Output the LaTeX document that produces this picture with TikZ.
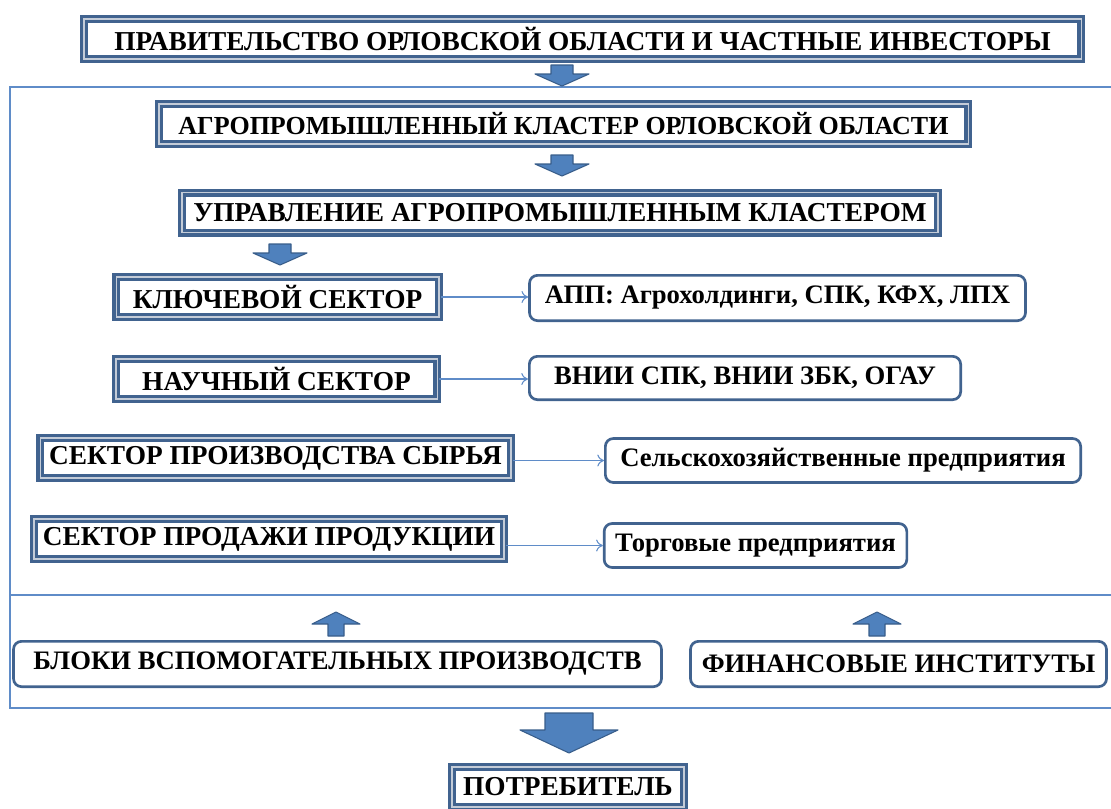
\documentclass[tikz,border=0pt]{standalone}
\usepackage{fontspec}
\setmainfont{Liberation Serif}
\usepackage{tikz}
\usetikzlibrary{calc,arrows.meta}

\definecolor{boxblue}{RGB}{65,99,143}
\definecolor{boxlight}{RGB}{196,204,216}
\definecolor{arrfill}{RGB}{79,129,189}
\definecolor{arredge}{RGB}{56,93,138}
\definecolor{linkblue}{RGB}{95,140,200}

\tikzset{
  framebox/.style={draw=boxblue, line width=2.5pt, double=boxlight, double distance=1pt,
    fill=white, inner sep=0pt, font=\bfseries\fontsize{20.5}{24}\selectfont},
  roundbox/.style={draw=boxblue, line width=2pt, rounded corners=6pt,
    fill=white, inner sep=0pt, font=\bfseries\fontsize{20}{24}\selectfont},
  link/.style={draw=linkblue, line width=0.8pt, -{To[length=5pt,width=9pt]}},
  arrowfill/.style={fill=arrfill, draw=arredge, line width=0.8pt, line join=round},
  downarr/.pic={\draw[arrowfill] (-11,0) -- (-11,-9) -- (-27,-9) -- (0,-21) -- (27,-9) -- (11,-9) -- (11,0) -- cycle;},
  uparr/.pic={\draw[arrowfill] (-8,0) -- (-8,12) -- (-24,12) -- (0,24) -- (24,12) -- (8,12) -- (8,0) -- cycle;},
  bigarr/.pic={\draw[arrowfill] (-24,0) -- (-24,-17) -- (-49,-17) -- (0,-40) -- (49,-17) -- (24,-17) -- (24,0) -- cycle;}
}

\begin{document}
\begin{tikzpicture}[x=0.75pt,y=0.75pt,yscale=-1,xscale=1]
\useasboundingbox (0,0) rectangle (1111,808);

% Outer frame
\draw [draw=linkblue, line width=1.2pt] (10,87) rectangle (1125,708);
\draw [draw=linkblue, line width=1.2pt] (10,595) -- (1125,595);

% Text Node
\node [framebox, minimum width=748pt, minimum height=30pt] (gov) at (582.5,39) {ПРАВИТЕЛЬСТВО ОРЛОВСКОЙ ОБЛАСТИ И ЧАСТНЫЕ ИНВЕСТОРЫ};
% Text Node
\node [framebox, minimum width=607pt, minimum height=30pt, font=\bfseries\fontsize{19.5}{24}\selectfont] (clust) at (563.5,124) {АГРОПРОМЫШЛЕННЫЙ КЛАСТЕР ОРЛОВСКОЙ ОБЛАСТИ};
% Text Node
\node [framebox, minimum width=567pt, minimum height=30pt] (ctrl) at (560,212.5) {УПРАВЛЕНИЕ АГРОПРОМЫШЛЕННЫМ КЛАСТЕРОМ};
% Text Node
\node [framebox, minimum width=242pt, minimum height=30pt] (key) at (277.5,297) {КЛЮЧЕВОЙ СЕКТОР};
% Text Node
\node [framebox, minimum width=241pt, minimum height=30pt] (sci) at (276.5,379) {НАУЧНЫЙ СЕКТОР};
% Text Node
\node [framebox, minimum width=353pt, minimum height=30pt] (raw) at (275.5,458) {СЕКТОР ПРОИЗВОДСТВА СЫРЬЯ};
% Text Node
\node [framebox, minimum width=352.5pt, minimum height=30pt] (sale) at (269,539) {СЕКТОР ПРОДАЖИ ПРОДУКЦИИ};
% Text Node
\node [framebox, minimum width=174pt, minimum height=30pt] (cons) at (568,787) {ПОТРЕБИТЕЛЬ};

% Text Node
\node [roundbox, minimum width=372pt, minimum height=34pt] (app) at (777.5,298) {АПП: Агрохолдинги, СПК, КФХ, ЛПХ};
% Text Node
\node [roundbox, minimum width=323.5pt, minimum height=32.5pt] (vnii) at (745,378) {ВНИИ СПК, ВНИИ ЗБК, ОГАУ};
% Text Node
\node [roundbox, minimum width=356.5pt, minimum height=33pt] (agri) at (843,460.5) {Сельскохозяйственные предприятия};
% Text Node
\node [roundbox, minimum width=227pt, minimum height=33pt] (trade) at (755.5,545.5) {Торговые предприятия};
% Text Node
\node [roundbox, minimum width=486pt, minimum height=34pt] (aux) at (337.5,664) {БЛОКИ ВСПОМОГАТЕЛЬНЫХ ПРОИЗВОДСТВ};
% Text Node
\node [roundbox, minimum width=312pt, minimum height=34pt] (fin) at (898.5,664) {ФИНАНСОВЫЕ ИНСТИТУТЫ};

% Block arrows
\pic at (562,65) {downarr};
\pic at (562,155) {downarr};
\pic at (280,244) {downarr};
\pic at (336,636) {uparr};
\pic at (877,636) {uparr};
\pic at (569,713) {bigarr};

% Connection
\draw [link] (key.east) -- (key.east -| app.west);
% Connection
\draw [link] (sci.east) -- (sci.east -| vnii.west);
% Connection
\draw [link] (raw.east |- agri.west) -- (agri.west);
% Connection
\draw [link] (sale.east |- trade.west) -- (trade.west);

\end{tikzpicture}
\end{document}
